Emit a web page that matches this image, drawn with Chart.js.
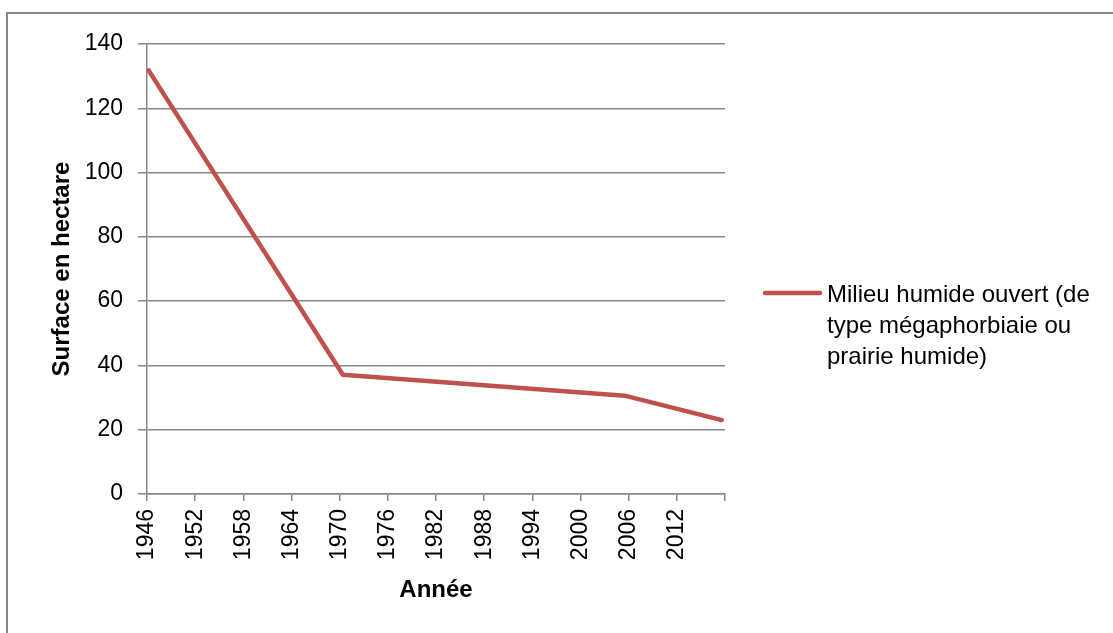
<!DOCTYPE html>
<html>
<head>
<meta charset="utf-8">
<script src="https://cdn.jsdelivr.net/npm/chart.js@4.4.1/dist/chart.umd.min.js"></script>
<style>
  html, body { margin: 0; padding: 0; background: #fff; overflow: hidden; }
  #wrap { position: relative; width: 1113px; height: 633px; overflow: hidden; }
  #frame { position: absolute; left: 6px; top: 12px; width: 1200px; height: 700px; border: 2px solid #878787; box-sizing: border-box; }
  #chart { position: absolute; left: 0; top: 0; }
</style>
</head>
<body>
<div id="wrap">
  <div id="frame"></div>
  <canvas id="chart" width="1113" height="633"></canvas>
</div>
<script>
// data
const years = [1946.2, 1970.4, 2005.5, 2017.6];
const surface = [131.8, 37.1, 30.6, 23.0];
const seriesLabel = "Milieu humide ouvert (de type mégaphorbiaie ou prairie humide)";
const yTitle = "Surface en hectare";
const xTitle = "Année";

const FONT = "'Liberation Sans', Arial, sans-serif";
const RED = "#C0504D";
const GRID = "#878787";

// legend drawn on the right, wrapped like the original
const sideLegend = {
  id: "sideLegend",
  afterDraw(chart) {
    const ctx = chart.ctx;
    const ds = chart.data.datasets[0];
    const x0 = chart.chartArea.right + 40;
    const y0 = 293;
    ctx.save();
    ctx.strokeStyle = ds.borderColor;
    ctx.lineWidth = 4.5;
    ctx.lineCap = "round";
    ctx.beginPath();
    ctx.moveTo(x0, y0);
    ctx.lineTo(x0 + 55, y0);
    ctx.stroke();

    ctx.font = "24px " + FONT;
    ctx.fillStyle = "#000";
    ctx.textBaseline = "alphabetic";
    const words = ds.label.split(" ");
    const lines = [];
    let cur = "";
    words.forEach((w) => {
      const test = cur ? cur + " " + w : w;
      if (ctx.measureText(test).width > 280 && cur) {
        lines.push(cur);
        cur = w;
      } else {
        cur = test;
      }
    });
    lines.push(cur);
    lines.forEach((l, i) => ctx.fillText(l, x0 + 62, 302 + i * 31));
    ctx.restore();
  },
};

const ctx = document.getElementById("chart").getContext("2d");
new Chart(ctx, {
  type: "line",
  data: {
    datasets: [
      {
        label: seriesLabel,
        data: years.map((y, i) => ({ x: y, y: surface[i] })),
        borderColor: RED,
        backgroundColor: RED,
        borderWidth: 4.5,
        borderJoinStyle: "round",
        borderCapStyle: "round",
        pointRadius: 0,
        tension: 0,
      },
    ],
  },
  options: {
    responsive: false,
    animation: false,
    layout: { padding: { left: 0, top: 44, right: 388, bottom: 0 } },
    plugins: {
      legend: { display: false },
      tooltip: { enabled: false },
    },
    scales: {
      x: {
        type: "linear",
        min: 1946,
        max: 2018,
        afterFit: (s) => { s.height = 139; },
        afterBuildTicks: (s) => {
          const t = [];
          for (let v = 1946; v <= 2018; v += 6) t.push({ value: v });
          s.ticks = t;
        },
        ticks: {
          autoSkip: false,
          minRotation: 90,
          maxRotation: 90,
          padding: 8,
          color: "#000",
          font: { family: FONT, size: 23 },
          callback: (v) => (v === 2018 ? "" : String(v)),
        },
        grid: {
          drawOnChartArea: false,
          drawTicks: true,
          tickLength: 7,
          color: GRID,
          lineWidth: 1.5,
        },
        border: { color: GRID, width: 1.5 },
        title: {
          display: true,
          text: xTitle,
          color: "#000",
          font: { family: FONT, size: 24, weight: "bold" },
          padding: { top: 0, bottom: 28 },
        },
      },
      y: {
        min: 0,
        max: 140,
        afterFit: (s) => { s.width = 147; },
        ticks: {
          stepSize: 20,
          padding: 15,
          color: "#000",
          font: { family: FONT, size: 23 },
        },
        grid: {
          color: GRID,
          lineWidth: 1.5,
          tickLength: 9,
        },
        border: { color: GRID, width: 1.5 },
        title: {
          display: true,
          text: yTitle,
          color: "#000",
          font: { family: FONT, size: 24, weight: "bold" },
          padding: { top: 48, bottom: 0 },
        },
      },
    },
  },
  plugins: [sideLegend],
});
</script>
</body>
</html>
